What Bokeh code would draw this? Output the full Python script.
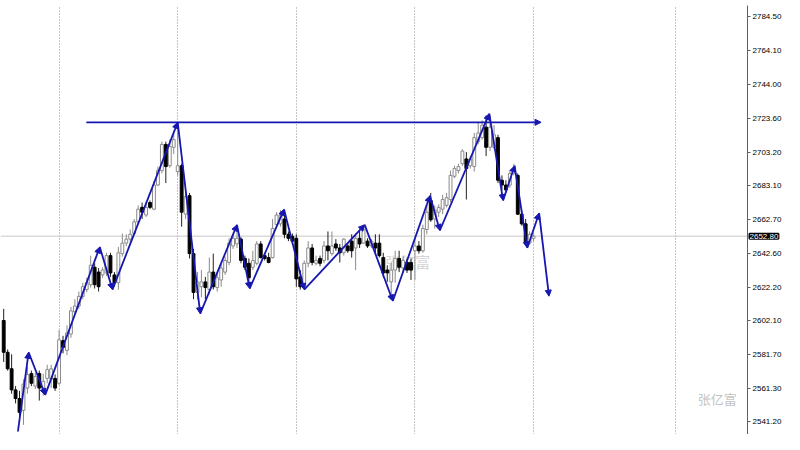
from bokeh.plotting import figure
from bokeh.models import Range1d, FixedTicker, Grid, PrintfTickFormatter, Span, Label, Arrow, NormalHead, ColumnDataSource
from bokeh.core.properties import value
from bokeh.embed import file_html
from bokeh.resources import INLINE

# ---- data (bar index, OHLC) ----
opens = [2602.1, 2583.0, 2573.1, 2560.4, 2555.2, 2548.1, 2561.5, 2570.2, 2562.7, 2570.2,
         2561.5, 2567.3, 2566.8, 2567.3, 2564.4, 2590.0, 2584.2, 2594.0, 2607.4, 2610.8,
         2616.6, 2620.7, 2623.6, 2634.1, 2631.2, 2629.5, 2630.7, 2641.1, 2629.5, 2624.8,
         2642.3, 2648.6, 2651.0, 2654.4, 2661.4, 2670.1, 2665.5, 2673.0, 2669.0, 2683.5,
         2692.2, 2707.9, 2695.1, 2706.2, 2691.6, 2695.1, 2666.0, 2677.1, 2642.3, 2619.0,
         2622.4, 2625.3, 2620.7, 2631.2, 2621.9, 2626.5, 2631.2, 2637.0, 2646.9, 2648.1,
         2651.0, 2639.4, 2636.5, 2634.1, 2636.5, 2648.1, 2641.1, 2639.9, 2639.9, 2659.7,
         2660.2, 2663.1, 2653.9, 2652.7, 2651.5, 2628.3, 2622.4, 2636.5, 2645.7, 2636.5,
         2639.4, 2638.2, 2646.9, 2642.3, 2648.1, 2645.7, 2642.8, 2646.9, 2649.8, 2645.7,
         2651.5, 2648.6, 2649.8, 2646.9, 2648.6, 2648.6, 2639.9, 2632.4, 2625.3, 2632.4,
         2639.4, 2633.6, 2637.0, 2637.0, 2644.0, 2646.9, 2644.0, 2656.8, 2674.2, 2663.1,
         2667.2, 2669.0, 2671.3, 2674.8, 2688.8, 2692.2, 2696.3, 2699.2, 2695.1, 2694.6,
         2709.6, 2712.0, 2718.3, 2706.2, 2706.2, 2712.0, 2686.4, 2683.5, 2683.5, 2690.5,
         2689.3, 2666.0, 2660.2, 2648.6, 2651.5]
highs = [2609.1, 2584.7, 2581.8, 2562.7, 2559.8, 2566.8, 2574.3, 2572.0, 2570.8, 2572.0,
         2570.2, 2575.5, 2575.5, 2569.7, 2596.3, 2592.9, 2599.2, 2610.3, 2614.9, 2619.5,
         2624.8, 2627.8, 2641.1, 2636.5, 2633.6, 2634.1, 2642.8, 2642.8, 2631.2, 2646.3,
         2654.4, 2653.9, 2656.8, 2663.1, 2671.3, 2673.0, 2673.0, 2674.2, 2685.9, 2694.6,
         2709.6, 2709.6, 2710.8, 2714.8, 2719.5, 2696.3, 2678.8, 2678.8, 2645.1, 2631.2,
         2632.4, 2628.3, 2639.9, 2642.3, 2630.7, 2636.5, 2640.5, 2651.5, 2653.9, 2659.7,
         2652.1, 2641.1, 2639.4, 2644.0, 2649.8, 2649.8, 2642.8, 2642.8, 2663.1, 2667.2,
         2668.4, 2667.2, 2655.6, 2654.4, 2653.9, 2632.4, 2638.2, 2649.8, 2648.1, 2641.1,
         2641.1, 2649.8, 2655.6, 2655.6, 2651.0, 2648.1, 2651.5, 2648.6, 2653.9, 2654.4,
         2656.8, 2659.7, 2651.5, 2651.0, 2653.9, 2653.9, 2642.8, 2635.3, 2637.0, 2644.0,
         2644.0, 2641.1, 2639.4, 2639.4, 2651.5, 2649.8, 2659.7, 2671.3, 2678.8, 2671.3,
         2671.9, 2677.6, 2678.8, 2692.2, 2695.1, 2696.3, 2705.0, 2703.3, 2700.9, 2714.8,
         2721.2, 2722.4, 2725.3, 2725.3, 2719.5, 2713.7, 2689.3, 2686.4, 2692.2, 2696.3,
         2690.5, 2668.4, 2663.1, 2655.6, 2654.4]
lows = [2577.2, 2572.0, 2558.1, 2552.3, 2544.0, 2539.4, 2558.1, 2562.7, 2561.0, 2554.0,
        2556.9, 2564.4, 2561.5, 2559.8, 2563.3, 2582.4, 2581.3, 2591.7, 2605.6, 2609.1,
        2614.9, 2619.0, 2621.9, 2621.3, 2619.5, 2627.8, 2628.9, 2628.3, 2622.4, 2620.7,
        2640.5, 2646.9, 2649.2, 2653.3, 2660.2, 2663.1, 2664.3, 2669.0, 2668.4, 2682.9,
        2690.5, 2684.7, 2694.0, 2702.1, 2689.3, 2658.5, 2663.1, 2639.4, 2614.9, 2614.9,
        2616.1, 2614.9, 2617.8, 2620.7, 2619.5, 2622.4, 2629.5, 2635.3, 2645.1, 2645.7,
        2636.5, 2632.4, 2624.8, 2632.4, 2635.3, 2639.4, 2638.2, 2636.5, 2639.4, 2657.4,
        2658.5, 2651.5, 2649.8, 2648.1, 2622.4, 2620.7, 2620.7, 2634.1, 2635.3, 2635.3,
        2634.7, 2636.5, 2638.2, 2641.1, 2644.0, 2637.0, 2641.1, 2642.8, 2639.9, 2632.4,
        2645.7, 2648.1, 2645.7, 2645.7, 2642.3, 2639.9, 2627.8, 2625.3, 2614.9, 2624.8,
        2631.2, 2631.2, 2630.7, 2626.5, 2626.5, 2642.3, 2642.8, 2653.9, 2661.4, 2657.4,
        2664.3, 2666.0, 2670.1, 2673.0, 2687.6, 2690.5, 2695.1, 2674.8, 2693.4, 2691.6,
        2707.9, 2710.8, 2700.9, 2703.9, 2705.0, 2684.7, 2680.6, 2678.8, 2681.8, 2689.3,
        2665.5, 2659.1, 2646.9, 2647.5, 2649.8]
closes = [2583.0, 2573.1, 2560.4, 2555.2, 2546.9, 2563.9, 2569.7, 2564.4, 2568.5, 2561.5,
          2565.6, 2572.6, 2573.1, 2561.5, 2590.5, 2585.9, 2594.6, 2607.9, 2610.8, 2616.6,
          2622.4, 2624.8, 2635.3, 2623.6, 2622.4, 2632.4, 2641.1, 2630.7, 2624.8, 2642.8,
          2648.6, 2651.0, 2653.9, 2661.4, 2669.0, 2667.2, 2670.1, 2670.1, 2683.5, 2692.2,
          2707.9, 2694.6, 2706.7, 2710.8, 2695.1, 2667.2, 2676.5, 2642.3, 2619.0, 2625.3,
          2625.3, 2621.9, 2631.2, 2622.4, 2627.8, 2633.6, 2638.2, 2648.6, 2651.5, 2651.5,
          2638.2, 2634.1, 2627.8, 2638.2, 2648.1, 2639.9, 2639.4, 2637.0, 2657.4, 2665.5,
          2665.5, 2653.9, 2651.5, 2649.8, 2627.1, 2622.4, 2636.5, 2645.7, 2637.0, 2638.2,
          2636.5, 2646.9, 2644.0, 2646.9, 2645.7, 2642.8, 2651.0, 2644.0, 2644.0, 2651.5,
          2648.1, 2656.8, 2646.9, 2649.8, 2645.7, 2641.1, 2630.7, 2630.7, 2632.4, 2639.4,
          2634.1, 2638.2, 2632.4, 2632.4, 2646.9, 2644.0, 2657.4, 2667.2, 2662.6, 2668.4,
          2670.1, 2674.8, 2675.9, 2689.3, 2693.4, 2694.6, 2703.9, 2693.4, 2699.2, 2712.0,
          2714.8, 2719.5, 2706.2, 2718.3, 2713.7, 2686.4, 2683.5, 2680.6, 2690.5, 2693.4,
          2666.0, 2660.2, 2648.6, 2653.9, 2652.8]
bars = list(range(len(closes)))

# zigzag drawn on the chart (bar position, price)
zz_x = [3.6, 6.3, 10.5, 24.3, 27.5, 44.0, 49.7, 59.0, 62.2, 70.9, 76.0,
        91.3, 98.4, 107.8, 110.3, 122.8, 126.3, 129.2, 132.4, 135.4, 137.9]
zz_y = [2535.4, 2583.0, 2557.4, 2646.3, 2620.7, 2721.2, 2606.2, 2659.6, 2621.3, 2668.9, 2620.7,
        2659.6, 2613.8, 2677.1, 2656.2, 2726.4, 2674.2, 2695.1, 2645.7, 2666.6, 2616.7]

# horizontal resistance line
hline_x = [20.9, 135.9]
hline_y = [2721.2, 2721.2]

price_ticks = [2541.2, 2561.3, 2581.7, 2602.1, 2622.2, 2642.6, 2662.7,
               2683.1, 2703.2, 2723.6, 2744.0, 2764.1, 2784.5]
time_grid = [14, 44, 74, 104, 134, 170]
last_price = 2652.8
watermark = "张亿富"

BLUE = "#1616b0"

p = figure(width=784, height=434, x_range=Range1d(-0.81, 188.1), y_range=Range1d(2533.6, 2791.4),
           x_axis_location=None, y_axis_location="right", output_backend="svg",
           toolbar_location=None, min_border=0, background_fill_color="white",
           border_fill_color="white")
p.outline_line_color = None
# drop default grids, keep only the time separators
p.center = [c for c in p.center if not isinstance(c, Grid)]
p.add_layout(Grid(dimension=0, ticker=FixedTicker(ticks=time_grid), grid_line_color="#8c8c8c",
                  grid_line_dash="1 2", grid_line_width=1))

yax = p.yaxis[0]
yax.ticker = FixedTicker(ticks=price_ticks)
yax.formatter = PrintfTickFormatter(format="%.2f")
yax.major_label_text_font = "Liberation Sans"
yax.major_label_text_font_size = "8px"
yax.major_label_text_color = "#000000"
yax.axis_line_color = "#606060"
yax.major_tick_line_color = "#606060"
yax.major_tick_out = 3
yax.major_tick_in = 0
yax.minor_tick_line_color = None
yax.major_label_standoff = 2

# watermarks (behind candles)
p.text(x=[96.5], y=[2637.6], text=[watermark], text_font=value("Noto Sans CJK SC"),
       text_font_size="15px", text_color="#d4d4d4", text_baseline="middle", text_align="left")
p.text(x=[175.5], y=[2555.1], text=[watermark], text_font=value("Noto Sans CJK SC"),
       text_font_size="13px", text_color="#c4c4c4", text_baseline="middle", text_align="left")

p.add_layout(Span(location=last_price, dimension="width", line_color="#c8c8c8", line_width=1,
                  level="underlay"))

up = [i for i in bars if closes[i] >= opens[i]]
dn = [i for i in bars if closes[i] < opens[i]]

def src(idx):
    return ColumnDataSource(dict(
        x=[bars[i] for i in idx],
        hi=[highs[i] for i in idx], lo=[lows[i] for i in idx],
        top=[max(opens[i], closes[i]) for i in idx],
        bot=[min(opens[i], closes[i]) for i in idx]))

su, sd = src(up), src(dn)
p.segment(x0="x", y0="lo", x1="x", y1="hi", source=su, line_color="#8a8a8a", line_width=1)
p.segment(x0="x", y0="lo", x1="x", y1="hi", source=sd, line_color="#202020", line_width=1)
p.vbar(x="x", top="top", bottom="bot", width=0.72, source=su, fill_color="white",
       line_color="#8a8a8a", line_width=1)
p.vbar(x="x", top="top", bottom="bot", width=0.72, source=sd, fill_color="black",
       line_color="black", line_width=1)

# zigzag arrows
zsrc = ColumnDataSource(dict(x0=zz_x[:-1], y0=zz_y[:-1], x1=zz_x[1:], y1=zz_y[1:]))
p.add_layout(Arrow(end=NormalHead(size=6, fill_color=BLUE, line_color=BLUE, line_width=1),
                   x_start="x0", y_start="y0", x_end="x1", y_end="y1", source=zsrc,
                   line_color=BLUE, line_width=1.8))
p.add_layout(Arrow(end=NormalHead(size=6, fill_color=BLUE, line_color=BLUE, line_width=1),
                   x_start=hline_x[0], y_start=hline_y[0], x_end=hline_x[1], y_end=hline_y[1],
                   line_color=BLUE, line_width=1.8))

# current price tag on the axis (in a side panel, so it is not clipped to the frame)
p.add_layout(Label(x=188.1, y=last_price, text="%.2f" % last_price, text_color="white",
                   text_font="Liberation Sans", text_font_size="8px",
                   text_baseline="middle", text_align="left", x_offset=2,
                   background_fill_color="black", border_line_color="black",
                   border_line_width=2), "above")

open("out.html", "w").write(file_html(p, INLINE))
